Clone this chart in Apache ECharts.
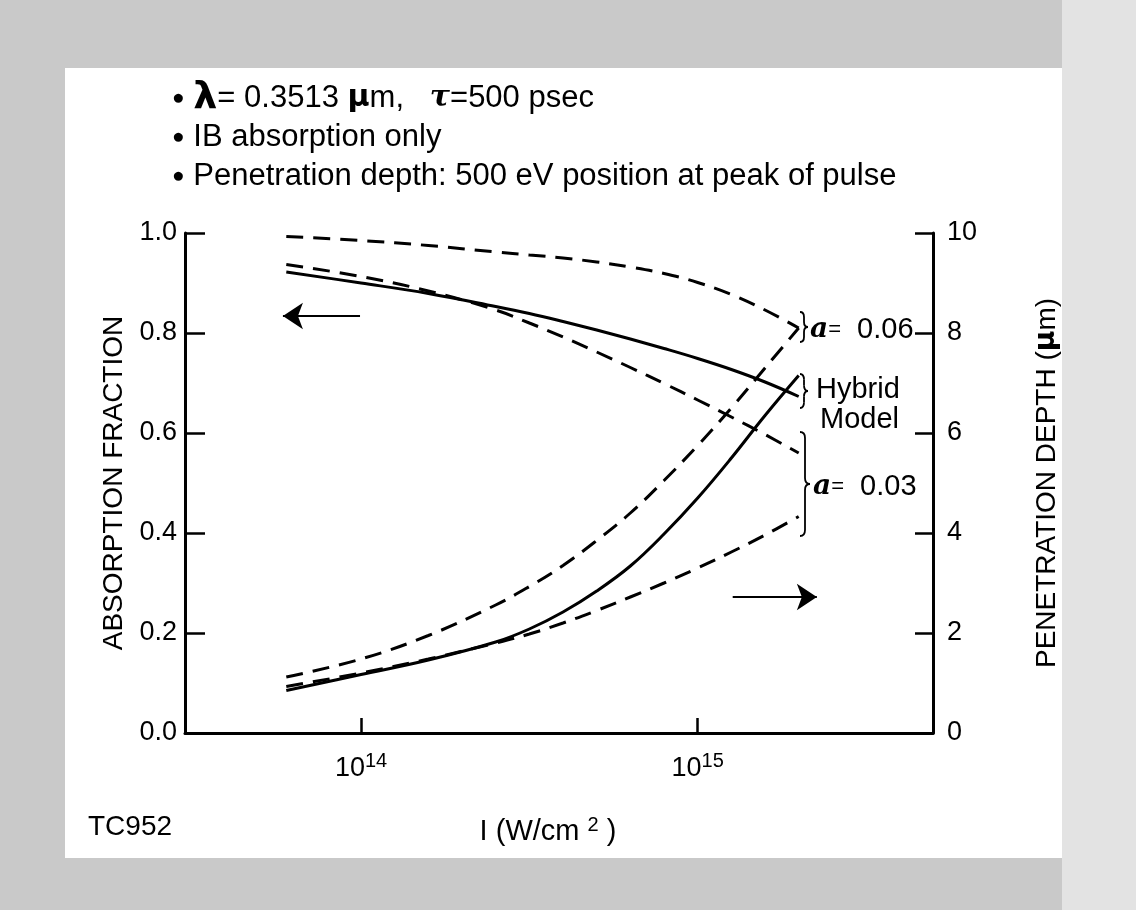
<!DOCTYPE html>
<html>
<head>
<meta charset="utf-8">
<title>Absorption fraction and penetration depth vs intensity</title>
<script src="https://cdn.jsdelivr.net/npm/echarts@6.0.0/dist/echarts.min.js"></script>
<style>
  html, body { margin: 0; padding: 0; }
  body { width: 1136px; height: 910px; background: #c9c9c9; position: relative; overflow: hidden; }
  #edge { position: absolute; left: 1062px; top: 0; width: 74px; height: 910px; background: #e3e3e3; }
  #paper { position: absolute; left: 65px; top: 68px; width: 997px; height: 790px; background: #fff; }
  #main { position: absolute; left: 0; top: 0; width: 1136px; height: 910px; }
</style>
</head>
<body>
<div id="edge"></div>
<div id="paper"></div>
<div id="main"></div>
<script>
// intensity, as log10 of W/cm2
const log10I = [13.778, 14.0, 14.2, 14.4, 14.5, 14.6, 14.7, 14.8, 14.9, 15.0, 15.1, 15.2, 15.3];

// absorption fraction (left axis)
const absorbA06    = [0.993, 0.985, 0.975, 0.962, 0.956, 0.950, 0.942, 0.932, 0.919, 0.901, 0.877, 0.846, 0.810];
const absorbHybrid = [0.922, 0.900, 0.879, 0.853, 0.839, 0.823, 0.806, 0.788, 0.769, 0.749, 0.727, 0.702, 0.673];
const absorbA03    = [0.937, 0.913, 0.884, 0.846, 0.820, 0.792, 0.762, 0.731, 0.699, 0.666, 0.632, 0.597, 0.560];

// penetration depth in um (right axis)
const depthA06    = [1.12, 1.48, 1.95, 2.56, 2.93, 3.35, 3.85, 4.40, 5.05, 5.75, 6.50, 7.30, 8.10];
const depthHybrid = [0.85, 1.17, 1.46, 1.82, 2.08, 2.42, 2.84, 3.34, 3.98, 4.70, 5.50, 6.35, 7.15];
const depthA03    = [0.93, 1.20, 1.48, 1.80, 1.98, 2.20, 2.45, 2.72, 3.00, 3.30, 3.62, 3.96, 4.33];

// x axis: 3e13 .. 5e15, labelled decades
const xMin = Math.log10(3e13);
const xMax = Math.log10(5e15);
const xDecades = [14, 15];

const FONT = 'Liberation Sans';

const chart = echarts.init(document.getElementById('main'), null, { renderer: 'canvas' });

function pts(ys) {
	return log10I.map(function (x, i) { return [x, ys[i]]; });
}

function curve(name, ys, axis, dashed) {
	return {
		name: name,
		type: 'line',
		yAxisIndex: axis,
		data: pts(ys),
		smooth: 0.4,
		showSymbol: false,
		silent: true,
		lineStyle: { color: '#000', width: 3, type: dashed ? [17, 10] : 'solid' }
	};
}

// plain arrow pointing at one of the axes
function arrow(from, to) {
	return {
		silent: true,
		symbol: ['none', 'arrow'],
		symbolSize: 20,
		label: { show: false },
		lineStyle: { color: '#000', width: 2, type: 'solid' },
		data: [[{ coord: from }, { coord: to }]]
	};
}

// "}" shaped brace, built from curve and line pieces
function brace(x, y1, y2, w) {
	const m = (y1 + y2) / 2, h = x + w / 2, q = Math.min(6, (y2 - y1) / 6);
	const st = { stroke: '#000', lineWidth: 1.8, fill: null };
	const quad = function (ax, ay, cx, cy, bx, by) {
		return { type: 'bezierCurve', silent: true, shape: { x1: ax, y1: ay, cpx1: cx, cpy1: cy, x2: bx, y2: by }, style: st };
	};
	const line = function (ax, ay, bx, by) {
		return { type: 'line', silent: true, shape: { x1: ax, y1: ay, x2: bx, y2: by }, style: st };
	};
	return [
		quad(x, y1, h, y1, h, y1 + q),
		line(h, y1 + q, h, m - q),
		quad(h, m - q, h, m, x + w, m),
		quad(x + w, m, h, m, h, m + q),
		line(h, m + q, h, y2 - q),
		quad(h, y2 - q, h, y2, x, y2)
	];
}

const txt = { fontFamily: FONT, fontSize: 29, fill: '#000' };
const aRich = {
	a: { fontFamily: 'DejaVu Serif', fontStyle: 'italic', fontWeight: 'bold', fontSize: 28 },
	eq: { fontFamily: FONT, fontSize: 22 }
};
const bullet = { fontSize: 21 };

const option = {
	animation: false,
	backgroundColor: 'transparent',
	textStyle: { fontFamily: FONT, color: '#000' },
	grid: { left: 185, right: 203, top: 233, bottom: 177 },
	xAxis: {
		type: 'value',
		min: xMin,
		max: xMax,
		name: 'I (W/cm {sup|2} )',
		nameLocation: 'middle',
		nameGap: 82,
		nameTextStyle: {
			fontFamily: FONT, fontSize: 29, color: '#000', padding: [0, 22, 0, 0],
			rich: { sup: { fontSize: 20, padding: [0, 0, 14, 0] } }
		},
		axisLine: { lineStyle: { color: '#000', width: 3 } },
		axisTick: { inside: true, length: 15, customValues: xDecades, lineStyle: { color: '#000', width: 2.5 } },
		axisLabel: {
			customValues: xDecades,
			margin: 18,
			color: '#000',
			fontFamily: FONT,
			fontSize: 27,
			formatter: function (v) { return '10{sup|' + v + '}'; },
			rich: { sup: { fontSize: 20, padding: [0, 0, 15, 0] } }
		},
		splitLine: { show: false }
	},
	yAxis: [
		{
			type: 'value',
			position: 'left',
			min: 0,
			max: 1,
			interval: 0.2,
			name: 'ABSORPTION FRACTION',
			nameLocation: 'middle',
			nameRotate: 90,
			nameGap: 48,
			nameTextStyle: { fontFamily: FONT, fontSize: 28, color: '#000' },
			axisLine: { show: true, lineStyle: { color: '#000', width: 3 } },
			axisTick: { show: true, inside: true, length: 20, lineStyle: { color: '#000', width: 2.5 } },
			axisLabel: { margin: 8, color: '#000', fontFamily: FONT, fontSize: 27, formatter: function (v) { return v.toFixed(1); } },
			splitLine: { show: false }
		},
		{
			type: 'value',
			position: 'right',
			min: 0,
			max: 10,
			interval: 2,
			name: 'PENETRATION DEPTH ({mu|µ}m)',
			nameLocation: 'middle',
			nameRotate: 90,
			nameGap: 100,
			nameTextStyle: { fontFamily: FONT, fontSize: 28, color: '#000', rich: { mu: { fontFamily: 'DejaVu Sans', fontWeight: 'bold', fontSize: 28 } } },
			axisLine: { show: true, lineStyle: { color: '#000', width: 3 } },
			axisTick: { show: true, inside: true, length: 18, lineStyle: { color: '#000', width: 2.5 } },
			axisLabel: { margin: 14, color: '#000', fontFamily: FONT, fontSize: 27 },
			splitLine: { show: false }
		}
	],
	series: [
		curve('absorption a=0.06', absorbA06, 0, true),
		Object.assign(curve('absorption hybrid', absorbHybrid, 0, false), {
			markLine: arrow([13.997, 0.834], [13.768, 0.834])
		}),
		curve('absorption a=0.03', absorbA03, 0, true),
		curve('depth a=0.06', depthA06, 1, true),
		Object.assign(curve('depth hybrid', depthHybrid, 1, false), {
			markLine: arrow([15.104, 2.72], [15.354, 2.72])
		}),
		curve('depth a=0.03', depthA03, 1, true)
	],
	graphic: [].concat(
		[
			// notes above the plot
			{ type: 'text', x: 172, y: 98, style: Object.assign({}, txt, {
				fontSize: 31, verticalAlign: 'middle',
				text: '{b|●} {lam|λ}= 0.3513 {mu|µ}m,   {tau|τ}=500 psec',
				rich: {
					b: bullet,
					lam: { fontFamily: 'DejaVu Sans', fontSize: 38, fontWeight: 'bold' },
					mu: { fontFamily: 'DejaVu Sans', fontWeight: 'bold', fontSize: 30 },
					tau: { fontFamily: 'DejaVu Serif', fontStyle: 'italic', fontWeight: 'bold', fontSize: 30 }
				}
			}) },
			{ type: 'text', x: 172, y: 137, style: Object.assign({}, txt, {
				fontSize: 31, verticalAlign: 'middle', text: '{b|●} IB absorption only', rich: { b: bullet }
			}) },
			{ type: 'text', x: 172, y: 176, style: Object.assign({}, txt, {
				fontSize: 31, verticalAlign: 'middle', text: '{b|●} Penetration depth: 500 eV position at peak of pulse', rich: { b: bullet }
			}) },
			// labels next to the braces
			{ type: 'text', x: 810, y: 330, style: Object.assign({}, txt, { text: '{a|a}{eq|=}  0.06', rich: aRich, verticalAlign: 'middle' }) },
			{ type: 'text', x: 816, y: 390, style: Object.assign({}, txt, { text: 'Hybrid', verticalAlign: 'middle' }) },
			{ type: 'text', x: 820, y: 420, style: Object.assign({}, txt, { text: 'Model', verticalAlign: 'middle' }) },
			{ type: 'text', x: 813, y: 487, style: Object.assign({}, txt, { text: '{a|a}{eq|=}  0.03', rich: aRich, verticalAlign: 'middle' }) },
			// figure code
			{ type: 'text', x: 88, y: 827, style: Object.assign({}, txt, { fontSize: 28, text: 'TC952', verticalAlign: 'middle' }) }
		],
		brace(800, 312, 342, 8),
		brace(800, 374, 408, 8),
		brace(800, 432, 536, 10)
	)
};

chart.setOption(option);
</script>
</body>
</html>
